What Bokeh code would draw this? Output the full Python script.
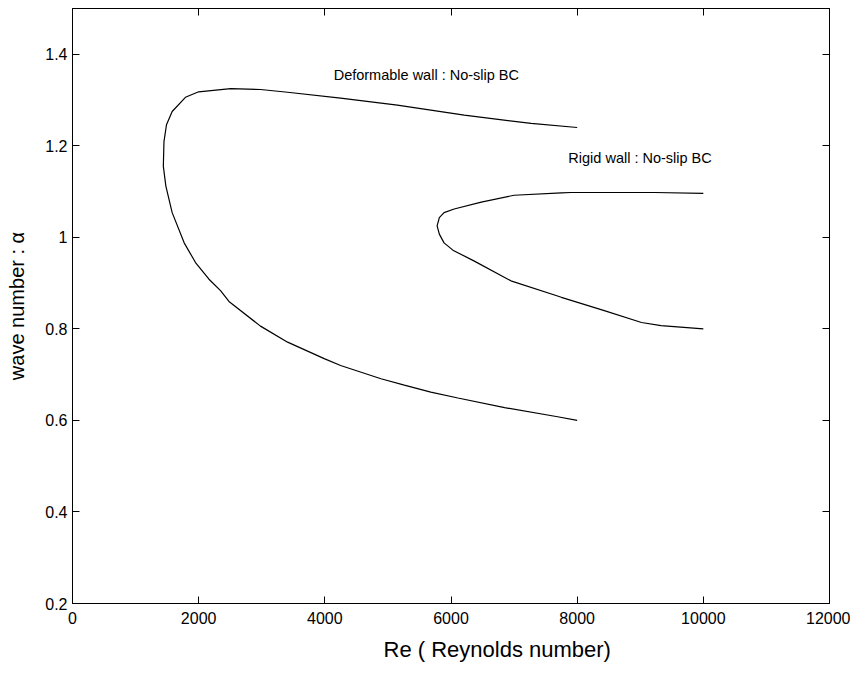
from bokeh.plotting import figure
from bokeh.models import LinearAxis, FixedTicker, Label, Range1d, Title, CustomJSTickFormatter
from bokeh.embed import file_html
from bokeh.resources import INLINE

# Deformable wall : No-slip BC (neutral curve)
deform_re = [8000, 7270, 6210, 5150, 4250, 3410, 2980, 2510, 2000, 1790, 1580,
             1490, 1450, 1440, 1480, 1580, 1770, 1950, 2160, 2350, 2480, 2980,
             3410, 3990, 4250, 4890, 5260, 5680, 6110, 6850, 7690, 8000]
deform_alpha = [1.240, 1.249, 1.267, 1.289, 1.304, 1.317, 1.323, 1.325, 1.318, 1.306, 1.275,
                1.246, 1.209, 1.155, 1.112, 1.054, 0.988, 0.945, 0.909, 0.883, 0.860, 0.806,
                0.771, 0.735, 0.720, 0.691, 0.677, 0.662, 0.649, 0.628, 0.608, 0.600]

# Rigid wall : No-slip BC (neutral curve)
rigid_re = [10000, 9230, 7900, 7750, 7000, 6480, 6050, 5890, 5815, 5780, 5815,
            5890, 6030, 6370, 6950, 7750, 8430, 9020, 9330, 10000]
rigid_alpha = [1.096, 1.098, 1.098, 1.097, 1.092, 1.077, 1.062, 1.054, 1.043, 1.025, 1.007,
               0.988, 0.972, 0.948, 0.905, 0.869, 0.840, 0.814, 0.807, 0.800]

x_ticks = [0, 2000, 4000, 6000, 8000, 10000, 12000]
y_ticks = [0.2, 0.4, 0.6, 0.8, 1.0, 1.2, 1.4]
y_tick_labels = {0.2: "0.2", 0.4: "0.4", 0.6: "0.6", 0.8: "0.8", 1.0: "1", 1.2: "1.2", 1.4: "1.4"}

FONT = "Liberation Sans"

p = figure(width=850, height=670, output_backend="svg", toolbar_location=None,
           x_range=Range1d(0, 12000), y_range=Range1d(0.2, 1.5),
           min_border_left=72, min_border_right=21, min_border_top=8, min_border_bottom=67)
p.grid.visible = False
p.outline_line_color = "black"
p.outline_line_width = 1
p.background_fill_color = "white"
p.border_fill_color = "white"

p.line(deform_re, deform_alpha, line_color="black", line_width=1.2)
p.line(rigid_re, rigid_alpha, line_color="black", line_width=1.2)

def style(ax, labels=True):
    ax.axis_line_color = "black"
    ax.major_tick_in = 7
    ax.major_tick_out = 0
    ax.major_tick_line_color = "black"
    ax.minor_tick_line_color = None
    if not labels:
        ax.formatter = CustomJSTickFormatter(code="return ''")
        ax.major_label_text_font_size = "1px"
        ax.major_label_standoff = 0

xa = p.xaxis[0]
xa.ticker = FixedTicker(ticks=x_ticks)
style(xa)
xa.major_label_text_font = FONT
xa.major_label_text_font_size = "16px"
xa.major_label_text_color = "black"
xa.major_label_standoff = 8

ya = p.yaxis[0]
ya.ticker = FixedTicker(ticks=y_ticks)
ya.major_label_overrides = {k: v for k, v in y_tick_labels.items()}
style(ya)
ya.major_label_text_font = FONT
ya.major_label_text_font_size = "16px"
ya.major_label_text_color = "black"
ya.major_label_standoff = 5
ya.axis_label = "wave number : \u03b1"
ya.axis_label_text_font = FONT
ya.axis_label_text_font_size = "20px"
ya.axis_label_text_font_style = "normal"
ya.axis_label_text_color = "black"
ya.axis_label_standoff = 14

top = LinearAxis(ticker=FixedTicker(ticks=x_ticks))
style(top, labels=False)
p.add_layout(top, "above")
right = LinearAxis(ticker=FixedTicker(ticks=y_ticks))
style(right, labels=False)
p.add_layout(right, "right")

xtitle = Title(text="Re ( Reynolds number)", align="left", offset=311, standoff=16,
               text_font=FONT, text_font_size="22px", text_font_style="normal",
               text_color="black")
p.add_layout(xtitle, "below")

p.add_layout(Label(x=4140, y=1.354, text="Deformable wall : No-slip BC", text_font=FONT,
                   text_font_size="14.5px", text_align="left", text_baseline="middle",
                   text_color="black"))
p.add_layout(Label(x=7860, y=1.174, text="Rigid wall : No-slip BC", text_font=FONT,
                   text_font_size="14.5px", text_align="left", text_baseline="middle",
                   text_color="black"))

open("out.html", "w").write(file_html(p, INLINE))
